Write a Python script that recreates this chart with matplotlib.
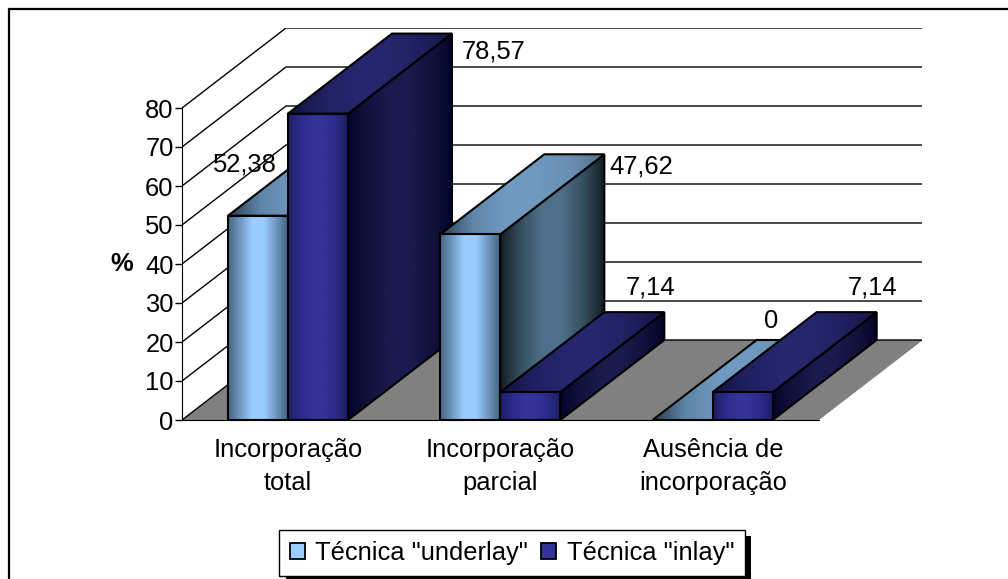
import numpy as np
import matplotlib
matplotlib.use("Agg")
import matplotlib.pyplot as plt
from matplotlib.colors import LinearSegmentedColormap
from matplotlib.lines import Line2D
from matplotlib.patches import Patch, Polygon, Rectangle

plt.rcParams["font.family"] = ["Liberation Sans", "DejaVu Sans"]

categories = ["Incorporação\ntotal", "Incorporação\nparcial", "Ausência de\nincorporação"]
series_names = ['Técnica "underlay"', 'Técnica "inlay"']
underlay = [52.38, 47.62, 0]
inlay = [78.57, 7.14, 7.14]
value_labels_underlay = ["52,38", "47,62", "0"]
value_labels_inlay = ["78,57", "7,14", "7,14"]
y_ticks = [0, 10, 20, 30, 40, 50, 60, 70, 80]

W, H = 1008, 579
FS = 18.4

# Oblique projection: depth offset of the 3D box, in data units
DEPTH_X = 104 / 212.33
DEPTH_Y = 80 / 3.9
BAR_W = 60 / 212.33
GROUP_PAD = 46 / 212.33

PALETTES = {
    "light": {
        "front": ["#446582", "#6f98c0", "#99ccff", "#99ccff", "#6f98c0", "#446582"],
        "top": ["#2c4052", "#5f86a8", "#7099c0", "#7099c0", "#6b8fb2", "#54708c"],
        "side": ["#141e26", "#35505f", "#4d6e8a", "#4d6e8a", "#35505f", "#141e26"],
    },
    "dark": {
        "front": ["#1d1d66", "#2b2b88", "#333399", "#333399", "#2b2b88", "#1d1d66"],
        "top": ["#12123c", "#1f1f60", "#26266e", "#26266e", "#1f1f60", "#161648"],
        "side": ["#04042a", "#12123e", "#1a1a4d", "#1a1a4d", "#12123e", "#04042a"],
    },
}


def shaded_face(ax, corners, stops, z):
    """Fill a polygon with a left-to-right gradient and a black outline."""
    corners = np.asarray(corners)
    outline = Polygon(corners, closed=True, facecolor="none", edgecolor="black",
                      linewidth=1.5, joinstyle="miter", zorder=z + 0.5)
    ax.add_patch(outline)
    cmap = LinearSegmentedColormap.from_list("face", stops)
    grad = np.linspace(0, 1, 256).reshape(1, -1)
    extent = (corners[:, 0].min(), corners[:, 0].max(),
              corners[:, 1].min(), corners[:, 1].max())
    im = ax.imshow(grad, cmap=cmap, extent=extent, aspect="auto",
                   interpolation="bilinear", zorder=z)
    im.set_clip_path(outline)


def draw_bar(ax, x, value, colours, z):
    x1 = x + BAR_W
    d = (DEPTH_X, DEPTH_Y)
    if value > 0:
        shaded_face(ax, [(x1, 0), (x1 + d[0], d[1]), (x1 + d[0], value + d[1]), (x1, value)],
                    colours["side"], z)
    shaded_face(ax, [(x, value), (x1, value), (x1 + d[0], value + d[1]), (x + d[0], value + d[1])],
                colours["top"], z + 1)
    if value > 0:
        shaded_face(ax, [(x, 0), (x1, 0), (x1, value), (x, value)], colours["front"], z + 2)


fig = plt.figure(figsize=(W / 100, H / 100), dpi=100, facecolor="white")
ax = fig.add_axes([182 / W, (H - 420) / H, 740 / W, 392 / H])
ax.patch.set_visible(False)

# Floor and walls
ax.add_patch(Polygon([(0, 0), (3, 0), (3 + DEPTH_X, DEPTH_Y), (DEPTH_X, DEPTH_Y)],
                     closed=True, facecolor="#808080", edgecolor="none", zorder=1))
x_end = 3 + DEPTH_X
for t in y_ticks:
    ax.plot([0, DEPTH_X, x_end], [t, t + DEPTH_Y, t + DEPTH_Y], color="black",
            linewidth=1.0, solid_joinstyle="miter", zorder=2)

# Bars, left to right so nearer faces overlap correctly
z = 3
for i in range(len(categories)):
    draw_bar(ax, i + GROUP_PAD, underlay[i], PALETTES["light"], z)
    z += 3
    draw_bar(ax, i + GROUP_PAD + BAR_W, inlay[i], PALETTES["dark"], z)
    z += 3

# Value labels sit beside the back edge of each bar (offsets in points)
label_offsets_underlay = [(-84, -20.5), (48, -8.5), (-11, 14)]
label_offsets_inlay = [(51.5, -13), (12, 18), (19, 18)]
for i in range(len(categories)):
    for vals, texts, offs, shift in (
        (underlay, value_labels_underlay, label_offsets_underlay, 0),
        (inlay, value_labels_inlay, label_offsets_inlay, BAR_W),
    ):
        ax.annotate(texts[i],
                    xy=(i + GROUP_PAD + shift + BAR_W / 2 + DEPTH_X, vals[i] + DEPTH_Y),
                    xytext=offs[i], textcoords="offset points", ha="center", va="center",
                    fontsize=FS, color="black", zorder=100)

ax.set_xlim(0, 740 / 212.33)
ax.set_ylim(0, 392 / 3.9)
for side in ("top", "right"):
    ax.spines[side].set_visible(False)
ax.spines["left"].set_bounds(0, 80)
ax.spines["bottom"].set_bounds(0, 3)
ax.spines["left"].set_zorder(50)
ax.spines["bottom"].set_zorder(2)
ax.set_yticks(y_ticks)
ax.set_xticks(np.arange(len(categories)) + 0.5)
ax.set_xticklabels(categories, linespacing=1.45)
ax.tick_params(axis="y", length=5, width=1, pad=1, labelsize=FS)
ax.tick_params(axis="x", length=0, pad=13, labelsize=FS)
fig.text(122 / W, (H - 264) / H, "%", fontsize=FS, fontweight="bold", ha="center", va="center")

# Chart frame: only the top and left edges fall inside the canvas
fig.add_artist(Line2D([8.5 / W, 8.5 / W, 1], [0, (H - 8.5) / H, (H - 8.5) / H],
                      color="black", linewidth=1.6, solid_joinstyle="miter"))

# Legend with a hard drop shadow
fig.add_artist(Rectangle((286 / W, 0), 465 / W, (H - 536) / H, transform=fig.transFigure,
                         facecolor="black", edgecolor="none", zorder=-1))
handles = [Patch(facecolor="#99ccff", edgecolor="black", linewidth=1.3),
           Patch(facecolor="#333399", edgecolor="black", linewidth=1.3)]
leg = ax.legend(handles, series_names, loc="center", ncol=2, fontsize=FS,
                bbox_to_anchor=(512 / W, (H - 553) / H), bbox_transform=fig.transFigure,
                fancybox=False, framealpha=1, edgecolor="black",
                handlelength=0.6, handleheight=0.6, handletextpad=0.4,
                columnspacing=0.5, borderpad=0.42, borderaxespad=0)
leg.get_frame().set_linewidth(1.0)
leg.set_zorder(200)

fig.savefig("out.png", dpi=100)
